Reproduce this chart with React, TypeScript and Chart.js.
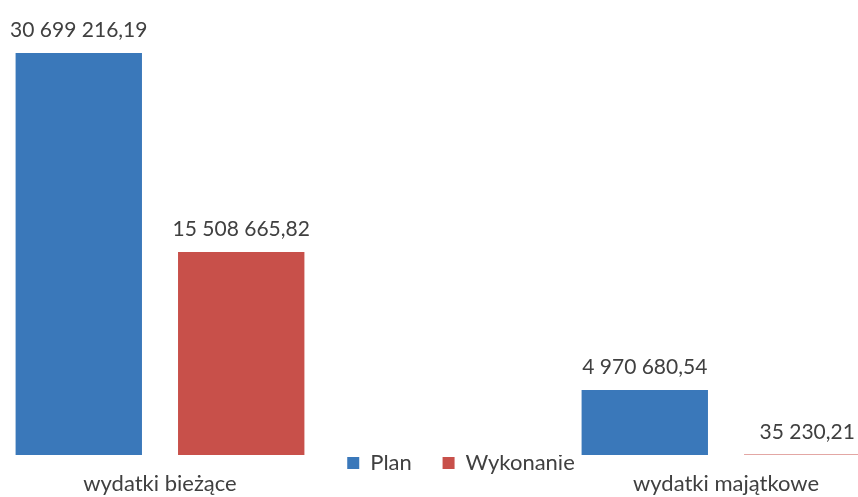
import React, { useEffect, useRef } from 'react';
import { Chart, registerables } from 'chart.js';

Chart.register(...registerables);

const categories = ['wydatki bieżące', 'wydatki majątkowe'];
const seriesNames = ['Plan', 'Wykonanie'];
const planValues = [30699216.19, 4970680.54];
const wykonanieValues = [15508665.82, 35230.21];
const seriesColors = ['#3A78BA', '#C8504A'];

const FONT = 'Lato, "Open Sans", sans-serif';
const TEXT = '#404040';

function fmtPL(v: number): string {
  const [i, d] = v.toFixed(2).split('.');
  return i.replace(/\B(?=(\d{3})+(?!\d))/g, ' ') + ',' + d;
}

const valueLabels = {
  id: 'valueLabels',
  afterLayout(chart: any) {
    // let the category labels draw below the (zero-height) x axis box
    const s = chart.scales.x;
    s.bottom = chart.height;
  },
  afterDatasetsDraw(chart: any) {
    const ctx = chart.ctx;
    ctx.save();
    ctx.font = `21px ${FONT}`;
    ctx.fillStyle = TEXT;
    ctx.textAlign = 'center';
    ctx.textBaseline = 'alphabetic';
    chart.data.datasets.forEach((ds: any, di: number) => {
      const meta = chart.getDatasetMeta(di);
      meta.data.forEach((bar: any, i: number) => {
        ctx.fillText(fmtPL(ds.data[i]), bar.x, bar.y - 16);
      });
    });
    ctx.restore();
  },
};

export default function App() {
  const ref = useRef<HTMLCanvasElement | null>(null);
  useEffect(() => {
    if (!ref.current) return;
    const chart = new Chart(ref.current, {
      type: 'bar',
      data: {
        labels: categories,
        datasets: [
          { label: seriesNames[0], data: planValues, backgroundColor: seriesColors[0], clip: false as any },
          { label: seriesNames[1], data: wykonanieValues, backgroundColor: seriesColors[1], clip: false as any },
        ],
      },
      options: {
        animation: false,
        responsive: false,
        maintainAspectRatio: false,
        categoryPercentage: 0.574,
        barPercentage: 0.778,
        layout: { padding: { top: 49, left: 160, right: 96, bottom: 13 } },
        plugins: {
          tooltip: { enabled: false },
          legend: {
            position: 'bottom',
            labels: {
              boxWidth: 12,
              boxHeight: 12,
              padding: -3,
              color: TEXT,
              font: { family: FONT, size: 22 },
              generateLabels: (chart: any) => {
                const items = Chart.defaults.plugins.legend.labels.generateLabels(chart);
                items.forEach((it: any, idx: number) => {
                  it.lineWidth = 0;
                  if (idx < items.length - 1) it.text = it.text + '      ';
                });
                return items;
              },
            },
          },
        },
        scales: {
          x: {
            offset: false,
            grid: { display: false, drawTicks: false },
            border: { display: false },
            ticks: {
              color: TEXT,
              font: { family: FONT, size: 22, lineHeight: 1 },
              padding: 18,
              maxRotation: 0,
              autoSkip: false,
            },
            afterFit: (s: any) => { s.height = 0; },
          },
          y: {
            position: 'right',
            min: 0,
            max: 31000000,
            grid: { display: false, drawTicks: false },
            border: { display: false },
            ticks: { display: false },
            afterFit: (s: any) => { s.width = 36; },
          },
        },
      },
      plugins: [valueLabels],
    });
    return () => chart.destroy();
  }, []);
  return (
    <div style={{ position: 'fixed', left: 0, top: 0, width: 858, height: 497, background: '#fff' }}>
      <canvas ref={ref} width={858} height={497} style={{ display: 'block' }} />
    </div>
  );
}
